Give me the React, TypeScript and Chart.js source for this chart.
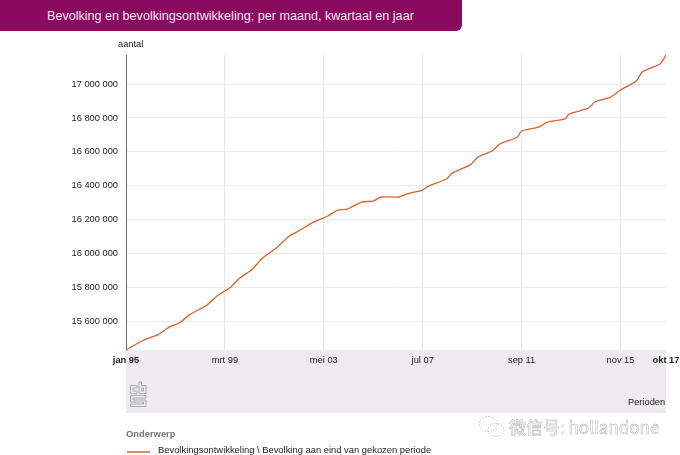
import React, { useEffect, useRef } from "react";
import { Chart, registerables } from "chart.js";

Chart.register(...registerables);

// Months since January 1995, read at the visible corners of the curve
const months = [
  0, 9, 16, 22, 27, 32, 41, 46, 53, 57, 64, 69, 76, 82, 89, 94, 102, 107, 112, 119, 125, 129, 138,
  142, 150, 153, 162, 165, 174, 178, 185, 189, 198, 200, 209, 213, 222, 224, 234, 237, 245, 250,
  258, 261, 270, 273,
];
const population = [
  15432000, 15491000, 15521000, 15568000, 15591000, 15639000, 15697000, 15750000, 15804000,
  15851000, 15910000, 15974000, 16033000, 16098000, 16145000, 16181000, 16222000, 16257000,
  16263000, 16304000, 16310000, 16334000, 16334000, 16352000, 16375000, 16399000, 16440000,
  16475000, 16523000, 16570000, 16605000, 16646000, 16688000, 16723000, 16747000, 16776000,
  16794000, 16823000, 16859000, 16894000, 16923000, 16965000, 17018000, 17071000, 17118000,
  17171000,
];
const xTickMonths = [0, 50, 100, 150, 200, 250, 273];
const xTickLabels = ["jan 95", "mrt 99", "mei 03", "jul 07", "sep 11", "nov 15", "okt 17"];
const yTicks = [15600000, 15800000, 16000000, 16200000, 16400000, 16600000, 16800000, 17000000];

const TITLE = "Bevolking en bevolkingsontwikkeling; per maand, kwartaal en jaar";
const SERIES = "Bevolkingsontwikkeling \\ Bevolking aan eind van gekozen periode";
const FONT = "'Liberation Sans', Arial, sans-serif";
const LINE = "#d5622f";

const text = (left: number, top: number, size: number, color: string, extra: any = {}) => ({
  position: "absolute" as const,
  left,
  top,
  fontSize: size,
  color,
  fontFamily: FONT,
  whiteSpace: "nowrap" as const,
  lineHeight: "14px",
  ...extra,
});

export default function App() {
  const ref = useRef<HTMLCanvasElement>(null);
  useEffect(() => {
    document.body.style.margin = "0";
    const chart = new Chart(ref.current!, {
      type: "line",
      data: {
        datasets: [
          {
            label: SERIES,
            data: months.map((m, i) => ({ x: m, y: population[i] })),
            borderColor: LINE,
            borderWidth: 1.3,
            pointRadius: 0,
            tension: 0.2,
          },
        ],
      },
      options: {
        animation: false,
        responsive: false,
        layout: { padding: { top: 55, right: 14, left: 0, bottom: 0 } },
        plugins: { legend: { display: false }, tooltip: { enabled: false } },
        scales: {
          x: {
            type: "linear",
            min: 0,
            max: 273,
            afterBuildTicks: (s: any) => {
              s.ticks = xTickMonths.map((v) => ({ value: v }));
            },
            afterFit: (s: any) => {
              s.height = 105;
              s.paddingLeft = 0;
              s.paddingRight = 0;
            },
            grid: {
              color: (c: any) =>
                c.index === 0 || c.index === xTickMonths.length - 1 ? "rgba(0,0,0,0)" : "#e8e5e9",
              drawTicks: false,
              lineWidth: 1,
            },
            border: { display: false },
            ticks: {
              autoSkip: false,
              maxRotation: 0,
              padding: 5,
              color: "#222",
              font: (c: any) => ({
                family: FONT,
                size: 9.3,
                weight: c.index === 0 || c.index === xTickMonths.length - 1 ? "bold" : "normal",
              }),
              callback: (_v: any, i: number) => xTickLabels[i],
            },
          },
          y: {
            type: "linear",
            min: 15432000,
            max: 17171000,
            afterBuildTicks: (s: any) => {
              s.ticks = yTicks.map((v) => ({ value: v }));
            },
            afterFit: (s: any) => {
              s.width = 126;
            },
            grid: { color: "#eceaee", drawTicks: false, lineWidth: 1 },
            border: { display: true, color: "#6b6b6b", width: 1 },
            ticks: {
              padding: 8,
              color: "#222",
              font: { family: FONT, size: 9.3 },
              callback: (v: any) => String(v).replace(/\B(?=(\d{3})+$)/g, " "),
            },
          },
        },
      },
    });
    return () => chart.destroy();
  }, []);

  return (
    <div style={{ position: "absolute", left: 0, top: 0, width: 680, height: 455, overflow: "hidden", background: "#fff" }}>
      <div style={{ position: "absolute", left: 0, top: 0, width: 462, height: 31, background: "#8a0a5f", borderBottomRightRadius: 6 }} />
      <div style={text(47, 9, 12.6, "#fbe3f3")}>{TITLE}</div>
      <div style={{ position: "absolute", left: 126, top: 350, width: 540, height: 63, background: "#edebed" }} />
      <canvas ref={ref} width={680} height={455} style={{ position: "absolute", left: 0, top: 0 }} />
      <div style={text(118, 37, 9.3, "#222")}>aantal</div>
      <div style={text(628, 395, 9.3, "#222")}>Perioden</div>
      <svg style={{ position: "absolute", left: 129, top: 381 }} width={19} height={27} fill="none" stroke="#9a9a9f" strokeWidth={0.8}>
        <path d="M1.5 4.5H8V7H4V10H8V12.5H1.5Z" />
        <path d="M10 1H12.5V4.5H17V12.5H10Z" />
        <rect x={12.5} y={7} width={2} height={3} />
        <path d="M1.5 14.5H17V17H4V19H17V25.5H1.5V23H14.5V21H1.5Z" />
      </svg>
      <div style={text(126, 427, 9.4, "#77737a", { fontWeight: "bold" })}>Onderwerp</div>
      <div style={{ position: "absolute", left: 127, top: 451, width: 23, height: 2, background: "#dc8a62" }} />
      <div style={text(158, 443, 9.4, "#222")}>{SERIES}</div>
      <svg style={{ position: "absolute", left: 476, top: 414 }} width={30} height={26} fill="none" stroke="#b5b5b5" strokeWidth={0.8} strokeDasharray="1.5 1.5">
        <ellipse cx={12} cy={10} rx={9} ry={7.5} />
        <ellipse cx={20} cy={16} rx={8} ry={6.5} />
      </svg>
      <div style={text(509, 418, 17, "#fff", { fontFamily: "'Noto Sans CJK SC', 'Liberation Sans', sans-serif", WebkitTextStroke: "0.4px #a5a5a5", lineHeight: "18px" })}>
        微信号: hollandone
      </div>
    </div>
  );
}
